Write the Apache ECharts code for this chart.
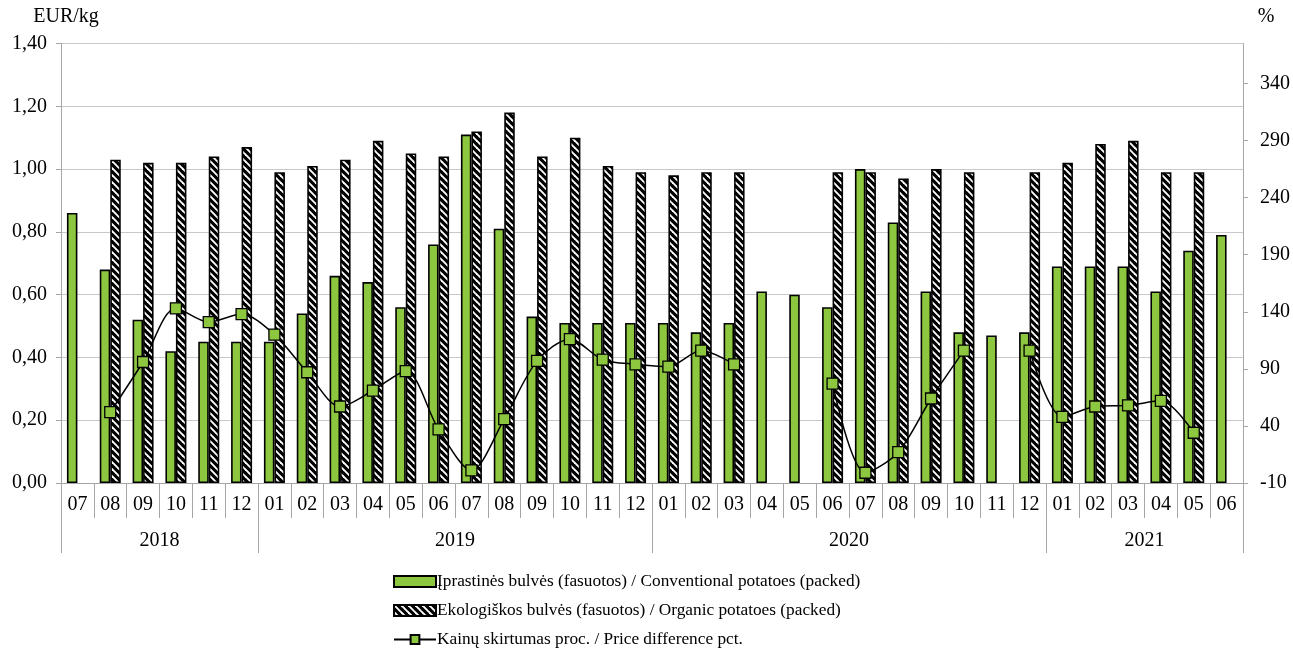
<!DOCTYPE html>
<html>
<head>
<meta charset="utf-8">
<script src="https://cdn.jsdelivr.net/npm/echarts@6/dist/echarts.min.js"></script>
<style>
html,body{margin:0;padding:0;background:#fff;}
#chart{width:1293px;height:655px;}
</style>
</head>
<body>
<div id="chart"></div>
<script>
const months = ['07','08','09','10','11','12',
  '01','02','03','04','05','06','07','08','09','10','11','12',
  '01','02','03','04','05','06','07','08','09','10','11','12',
  '01','02','03','04','05','06'];
const years = ['2018','2019','2020','2021'];
const yearSpans = [6, 12, 12, 6];

const conventional = [0.86,0.68,0.52,0.42,0.45,0.45,
  0.45,0.54,0.66,0.64,0.56,0.76,1.11,0.81,0.53,0.51,0.51,0.51,
  0.51,0.48,0.51,0.61,0.60,0.56,1.00,0.83,0.61,0.48,0.47,0.48,
  0.69,0.69,0.69,0.61,0.74,0.79];
const organic = [null,1.03,1.02,1.02,1.04,1.07,
  0.99,1.01,1.03,1.09,1.05,1.04,1.12,1.18,1.04,1.10,1.01,0.99,
  0.98,0.99,0.99,null,null,0.99,0.99,0.97,1.00,0.99,null,0.99,
  1.02,1.08,1.09,0.99,0.99,null];
const priceDiff = [null,52,96,143,131,138,
  120,87,57,71,88,37,1,46,97,116,98,94,
  92,106,94,null,null,77,-1,17,64,106,null,106,
  48,57,58,62,34,null];

const seriesNames = [
  'Įprastinės bulvės (fasuotos) / Conventional potatoes (packed)',
  'Ekologiškos bulvės (fasuotos) / Organic potatoes (packed)',
  'Kainų skirtumas proc. / Price difference pct.'
];

// year axis: half-month points
const yearAxisData = new Array(months.length * 2 + 1).fill('');
const yearBoundaries = new Set([0]);
let start = 0;
years.forEach((y, i) => {
  yearAxisData[2 * start + yearSpans[i]] = y;
  start += yearSpans[i];
  yearBoundaries.add(2 * start);
});

// hatch pattern for organic bars
const pc = document.createElement('canvas');
const P = 7;
pc.width = P; pc.height = P;
const g = pc.getContext('2d');
g.fillStyle = '#000';
g.fillRect(0, 0, P, P);
g.strokeStyle = '#fff';
g.lineWidth = 1.9;
[-P, 0, P].forEach(k => {
  g.beginPath();
  g.moveTo(-1 + k, -1);
  g.lineTo(P + 1 + k, P + 1);
  g.stroke();
});

const FONT = '"Liberation Serif", "Times New Roman", serif';
const GRAY = '#a6a6a6';

const chart = echarts.init(document.getElementById('chart'), null, {renderer: 'canvas'});
chart.setOption({
  animation: false,
  backgroundColor: '#fff',
  textStyle: {fontFamily: FONT, color: '#000'},
  grid: {left: 61, right: 48, top: 43.5, bottom: 172},
  legend: {
    orient: 'vertical',
    left: 393,
    top: 572,
    height: 100,
    padding: 0,
    itemWidth: 42,
    itemHeight: 11,
    itemGap: 10,
    textStyle: {fontFamily: FONT, fontSize: 17.3, color: '#000', lineHeight: 19, padding: [0,0,0,-4]},
    data: [
      {name: seriesNames[0], icon: 'rect'},
      {name: seriesNames[1], icon: 'rect'},
      {name: seriesNames[2]}
    ]
  },
  xAxis: [{
    type: 'category',
    data: months,
    position: 'bottom',
    axisLine: {show: true, onZero: false, lineStyle: {color: GRAY, width: 1}},
    axisTick: {show: true, length: 35, lineStyle: {color: GRAY}},
    axisLabel: {interval: 0, fontSize: 20, color: '#000', fontFamily: FONT, margin: 12},
    splitLine: {show: false}
  }, {
    type: 'category',
    data: yearAxisData,
    boundaryGap: false,
    position: 'bottom',
    offset: 0,
    axisLine: {show: false, onZero: false},
    axisTick: {show: true, length: 70, interval: (i) => yearBoundaries.has(i), lineStyle: {color: GRAY}},
    axisLabel: {interval: 0, fontSize: 20, color: '#000', fontFamily: FONT, margin: 48},
    splitLine: {show: false}
  }],
  yAxis: [{
    type: 'value',
    min: 0, max: 1.4, interval: 0.2,
    name: 'EUR/kg',
    nameLocation: 'end',
    nameGap: 17,
    nameTextStyle: {fontSize: 20, color: '#000', fontFamily: FONT, align: 'center', padding: [0,0,0,10]},
    axisLine: {show: true, lineStyle: {color: GRAY}},
    axisTick: {show: true, length: 5, lineStyle: {color: GRAY}},
    axisLabel: {fontSize: 20, color: '#000', fontFamily: FONT, margin: 14,
      formatter: v => v.toFixed(2).replace('.', ',')},
    splitLine: {show: true, lineStyle: {color: '#c8c8c8', width: 1}}
  }, {
    type: 'value',
    min: -10, max: 375, interval: 50,
    position: 'right',
    name: '%',
    nameLocation: 'end',
    nameGap: 17,
    nameTextStyle: {fontSize: 20, color: '#000', fontFamily: FONT, align: 'center', padding: [0,0,0,46]},
    axisLine: {show: true, lineStyle: {color: GRAY}},
    axisTick: {show: true, length: 5, lineStyle: {color: GRAY}},
    axisLabel: {fontSize: 20, color: '#000', fontFamily: FONT, margin: 17, showMaxLabel: false,
      formatter: v => (((v + 10) % 50) === 0 ? String(v) : '')},
    splitLine: {show: false}
  }],
  series: [{
    name: seriesNames[0],
    type: 'bar',
    xAxisIndex: 0, yAxisIndex: 0,
    data: conventional,
    barWidth: 10.5,
    barGap: '0%',
    itemStyle: {color: '#8dc63f', borderColor: '#000', borderWidth: 1.6}
  }, {
    name: seriesNames[1],
    type: 'bar',
    xAxisIndex: 0, yAxisIndex: 0,
    data: organic,
    barWidth: 10.5,
    barGap: '0%',
    itemStyle: {color: {image: pc, repeat: 'repeat'}, borderColor: '#000', borderWidth: 1.6}
  }, {
    name: seriesNames[2],
    type: 'line',
    xAxisIndex: 0, yAxisIndex: 1,
    data: priceDiff,
    smooth: 0.3,
    connectNulls: false,
    symbol: 'rect',
    symbolSize: 11,
    lineStyle: {color: '#000', width: 1.5},
    itemStyle: {color: '#8dc63f', borderColor: '#000', borderWidth: 1.3},
    z: 5
  }]
});
</script>
</body>
</html>
